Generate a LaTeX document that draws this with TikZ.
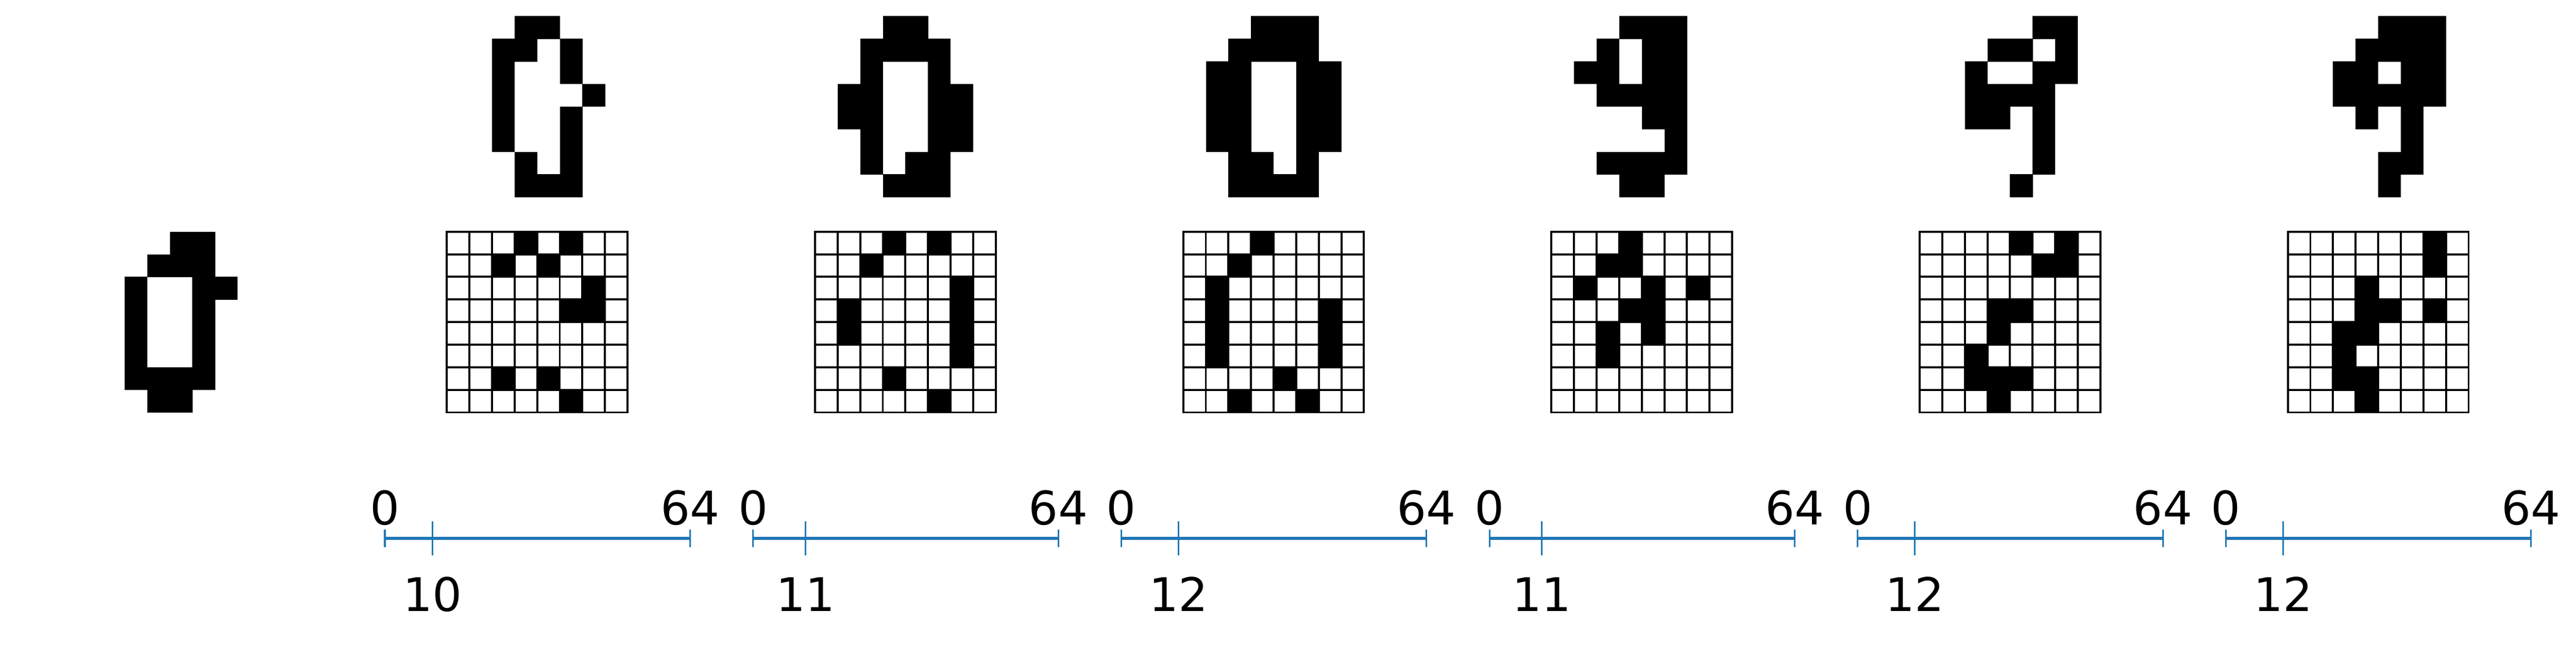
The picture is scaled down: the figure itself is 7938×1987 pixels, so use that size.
\documentclass[tikz,border=0pt]{standalone}
\usepackage{fontspec}
\setmainfont{DejaVu Sans}
\definecolor{tabblue}{HTML}{1F77B4}

% one panel: reconstruction on top, chosen pixels below, counter axis at the bottom
\newcommand{\drawpanel}[4]{%
    \pgfmathsetmacro{\px}{1377+1134.6*#1}
    \pgfmathsetmacro{\ax}{1186+1134.6*#1}
    % Reconstruction
    \foreach \c/\r in {#2} \fill[pix] ({\px+\c*69.6},{50+\r*69.6}) rectangle ++(70.2,70.2);
    % Chosen pixels
    \foreach \c/\r in {#3} \fill[pix] ({\px+\c*69.6},{714+\r*69.6}) rectangle ++(69.6,69.6);
    \foreach \i in {0,...,8} {
        \draw[gridline] ({\px+\i*69.6},714) -- ({\px+\i*69.6},1270.8);
        \draw[gridline] (\px,{714+\i*69.6}) -- ({\px+556.8},{714+\i*69.6});
    }
    % Counter axis
    \coordinate (start#1) at (\ax,1659);
    \coordinate (end#1) at ({\ax+940.5},1659);
    \coordinate (count#1) at ({\ax+940.5*#4/64},1659);
    \node [lbl] (zero#1) at (\ax,1617) {0};
    \node [lbl] (full#1) at ({\ax+940.5},1617) {64};
    \node [lbl] (value#1) at ({\ax+940.5*#4/64},1883) {#4};
    \path [axisline] (start#1) -- (end#1);
    \path [tickline] (start#1) ++(0,-27.5) -- ++(0,55);
    \path [tickline] (end#1) ++(0,-27.5) -- ++(0,55);
    \path [tickline] (count#1) ++(0,-52) -- ++(0,104);
}

\begin{document}
\begin{tikzpicture}[x=0.01cm, y=-0.01cm]
    % Define styles
    \tikzstyle{pix} = [fill=black]
    \tikzstyle{gridline} = [draw=black, line width=1.75pt, line cap=rect]
    \tikzstyle{axisline} = [draw=tabblue, line width=3pt]
    \tikzstyle{tickline} = [draw=tabblue, line width=1.4pt]
    \tikzstyle{lbl} = [font=\fontsize{40.6}{48}\selectfont, inner sep=0pt, anchor=base]

    \fill[white] (0,0) rectangle (7938,1987);
    \useasboundingbox (0,0) rectangle (7938,1987);

    % Input digit
    \foreach \c/\r in {4/0,5/0,3/1,4/1,5/1,2/2,5/2,6/2,2/3,5/3,2/4,5/4,2/5,5/5,2/6,3/6,4/6,5/6,3/7,4/7}
        \fill[pix] ({244.8+\c*69.6},{714+\r*69.6}) rectangle ++(70.2,70.2);

    % Panels
    \drawpanel{0}{3/0,4/0,2/1,3/1,5/1,2/2,5/2,2/3,6/3,2/4,5/4,2/5,5/5,3/6,5/6,3/7,4/7,5/7}
        {3/0,5/0,2/1,4/1,6/2,5/3,6/3,2/6,4/6,5/7}{10}
    \drawpanel{1}{3/0,4/0,2/1,3/1,4/1,5/1,2/2,5/2,1/3,2/3,5/3,6/3,1/4,2/4,5/4,6/4,2/5,5/5,6/5,2/6,4/6,5/6,3/7,4/7,5/7}
        {3/0,5/0,2/1,6/2,1/3,6/3,1/4,6/4,6/5,3/6,5/7}{11}
    \drawpanel{2}{3/0,4/0,5/0,2/1,3/1,4/1,5/1,1/2,2/2,5/2,6/2,1/3,2/3,5/3,6/3,1/4,2/4,5/4,6/4,1/5,2/5,5/5,6/5,2/6,3/6,5/6,2/7,3/7,4/7,5/7}
        {3/0,2/1,1/2,1/3,6/3,1/4,6/4,1/5,6/5,4/6,2/7,5/7}{12}
    \drawpanel{3}{3/0,4/0,5/0,2/1,4/1,5/1,1/2,2/2,4/2,5/2,2/3,3/3,4/3,5/3,4/4,5/4,5/5,2/6,3/6,4/6,5/6,3/7,4/7}
        {3/0,2/1,3/1,1/2,4/2,6/2,3/3,4/3,2/4,4/4,2/5}{11}
    \drawpanel{4}{5/0,6/0,3/1,4/1,6/1,2/2,5/2,6/2,2/3,3/3,4/3,5/3,2/4,3/4,5/4,5/5,5/6,4/7}
        {4/0,6/0,5/1,6/1,3/3,4/3,3/4,2/5,2/6,3/6,4/6,3/7}{12}
    \drawpanel{5}{4/0,5/0,6/0,3/1,4/1,5/1,6/1,2/2,3/2,5/2,6/2,2/3,3/3,4/3,5/3,6/3,3/4,5/4,5/5,4/6,5/6,4/7}
        {6/0,6/1,3/2,3/3,4/3,6/3,2/4,3/4,2/5,2/6,3/6,3/7}{12}

\end{tikzpicture}
\end{document}
